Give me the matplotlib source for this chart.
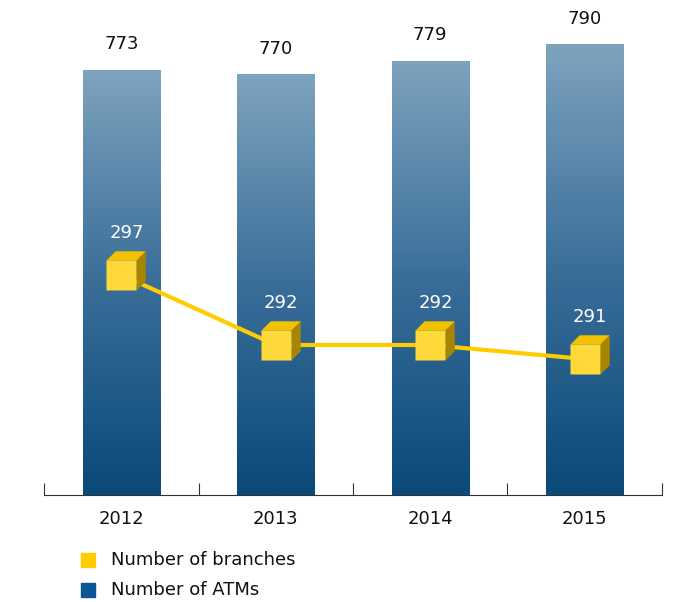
import numpy as np
import matplotlib
matplotlib.use('Agg')
import matplotlib.pyplot as plt
from matplotlib.path import Path
from matplotlib.colors import LinearSegmentedColormap

years = ['2012', '2013', '2014', '2015']
atms = [773, 770, 779, 790]
branches = [297, 292, 292, 291]

plt.rcParams['font.family'] = ['DejaVu Sans']

fig = plt.figure(figsize=(6.75, 6.02), dpi=100)
ax = fig.add_axes([0.0652, 0.1777, 0.9155, 0.806])
x = np.arange(len(years))

# bars (ATMs) with vertical gradient
bars = ax.bar(x, atms, width=0.5, bottom=0, color='#0D4F82', zorder=2)
cmap = LinearSegmentedColormap.from_list('atm', ['#0A4979', '#3A6E99', '#7EA3BE'])
grad = np.linspace(0, 1, 256).reshape(-1, 1)
for b in bars:
    x0 = b.get_x()
    x1 = x0 + b.get_width()
    top = b.get_height()
    im = ax.imshow(grad, cmap=cmap, origin='lower', aspect='auto',
                   extent=(x0, x1, 490, top), zorder=3)
    im.set_clip_path(b)
    ax.annotate(str(top), (b.get_x() + b.get_width() / 2, top),
                xytext=(0, 12), textcoords='offset points',
                ha='center', va='bottom', fontsize=13, color='#111111')
ax.set_xlim(-0.5, 3.5)
ax.set_ylim(490, 813)

# axis styling
for s in ['top', 'right', 'left']:
    ax.spines[s].set_visible(False)
ax.spines['bottom'].set_color('#333333')
ax.set_yticks([])
ax.set_xticks([-0.5, 0.5, 1.5, 2.5, 3.5])
ax.set_xticklabels([])
ax.tick_params(axis='x', direction='in', length=9, color='#333333')
for i, y in enumerate(years):
    ax.text(i, -0.03, y, transform=ax.get_xaxis_transform(),
            ha='center', va='top', fontsize=13, color='#111111')

# line (branches) on twin axis with cube markers
ax2 = ax.twinx()
ax2.set_ylim(281.3, 315.9)
ax2.axis('off')
ax2.plot(x, branches, color='#FFCC00', lw=3, zorder=2, solid_capstyle='butt')

# cube faces; every path reaches the same max extent so markers scale alike
d = 0.65
e = 1.05
front = Path([(e, e), (-d, -d), (d, -d), (d, d), (-d, d), (-d, -d)],
             [Path.MOVETO, Path.MOVETO, Path.LINETO, Path.LINETO, Path.LINETO, Path.CLOSEPOLY])
topf = Path([(-d, d), (d, d), (e, e), (-d + (e - d), e), (-d, d)],
            [Path.MOVETO, Path.LINETO, Path.LINETO, Path.LINETO, Path.CLOSEPOLY])
side = Path([(d, -d), (e, -d + (e - d)), (e, e), (d, d), (d, -d)],
            [Path.MOVETO, Path.LINETO, Path.LINETO, Path.LINETO, Path.CLOSEPOLY])
ms = 21.6 * e / d
ax2.plot(x, branches, ls='none', marker=side, ms=ms, mfc='#A88500', mec='none', zorder=3)
ax2.plot(x, branches, ls='none', marker=topf, ms=ms, mfc='#F2C200', mec='none', zorder=3)
ax2.plot(x, branches, ls='none', marker=front, ms=ms, mfc='#FFD83A', mec='none', zorder=4)
for i, v in enumerate(branches):
    ax2.annotate(str(v), (x[i], v), xytext=(4, 30), textcoords='offset points',
                 ha='center', va='center', fontsize=13, color='white', zorder=5)

# legend
fig.patches.append(plt.Rectangle((81 / 675, 1 - 567 / 602), 14 / 675, 14 / 602,
                                 transform=fig.transFigure, color='#FFCC00'))
fig.patches.append(plt.Rectangle((81 / 675, 1 - 597 / 602), 14 / 675, 14 / 602,
                                 transform=fig.transFigure, color='#0D5696'))
fig.text(111 / 675, 1 - 560 / 602, 'Number of branches', fontsize=13, va='center', color='#111111')
fig.text(111 / 675, 1 - 590 / 602, 'Number of ATMs', fontsize=13, va='center', color='#111111')

fig.savefig('out.png', dpi=100)
